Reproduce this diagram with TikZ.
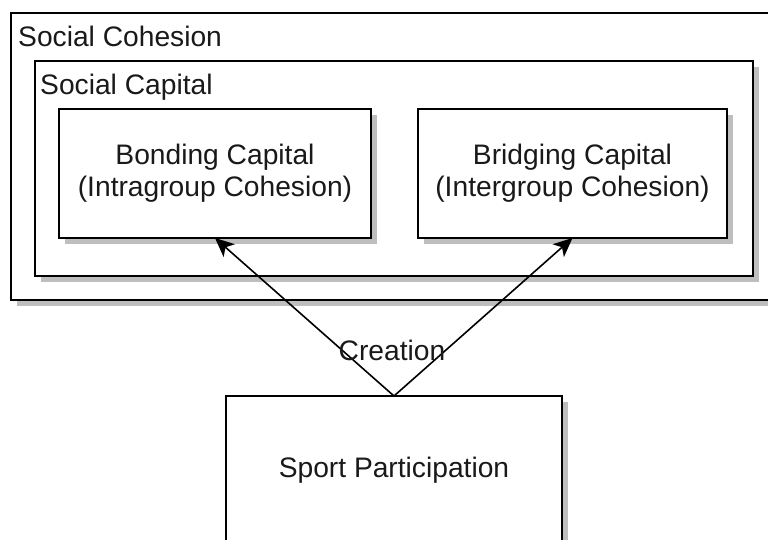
\documentclass[tikz,border=0pt]{standalone}
\usepackage{fontspec}
\setmainfont{Liberation Sans}
\usetikzlibrary{shadows,arrows.meta}
\definecolor{shade}{RGB}{190,190,190}
\definecolor{ink}{RGB}{25,25,25}
\tikzset{
  box/.style={rectangle, draw=black, line width=2pt, fill=white,
    inner sep=0pt, outer sep=0pt, text=ink, align=center,
    font=\fontsize{28.2}{32}\selectfont,
    general shadow={fill=shade, shadow xshift=5.5pt, shadow yshift=-5.5pt}},
  lbl/.style={text=ink, font=\fontsize{28.2}{32}\selectfont, inner sep=0pt},
  link/.style={line width=1.6pt, draw=black,
    -{Stealth[length=19pt,width=17pt,inset=5pt]}}
}
\begin{document}
\begin{tikzpicture}[x=1pt,y=-1pt]
  \useasboundingbox (0,0) rectangle (768,539);
  \clip (0,0) rectangle (768,539);

  % nested containers
  \node[box, minimum width=779pt, minimum height=287pt] (cohesion) at (400.5,156.5) {};
  \node[lbl, anchor=base west] (cohesionlbl) at ([shift={(7,33)}]cohesion.north west) {Social Cohesion};

  \node[box, minimum width=718pt, minimum height=215pt] (capital) at (394,168.5) {};
  \node[lbl, anchor=base west] (capitallbl) at ([shift={(5,33)}]capital.north west) {Social Capital};

  % the two forms of social capital
  \node[box, minimum width=312pt, minimum height=129pt] (bonding) at (215,173.5)
    {Bonding Capital\\(Intragroup Cohesion)};
  \node[box, minimum width=309pt, minimum height=129pt] (bridging) at (572.5,173.5)
    {Bridging Capital\\(Intergroup Cohesion)};

  % source
  \node[box, minimum width=336pt, minimum height=148pt] (sport) at (394,470)
    {Sport Participation};

  % connectors
  \draw[link] (sport.north) -- (bonding.south);
  \draw[link] (sport.north) -- (bridging.south);
  \node[lbl] (creation) at ([shift={(-2,-46)}]sport.north) {Creation};
\end{tikzpicture}
\end{document}
